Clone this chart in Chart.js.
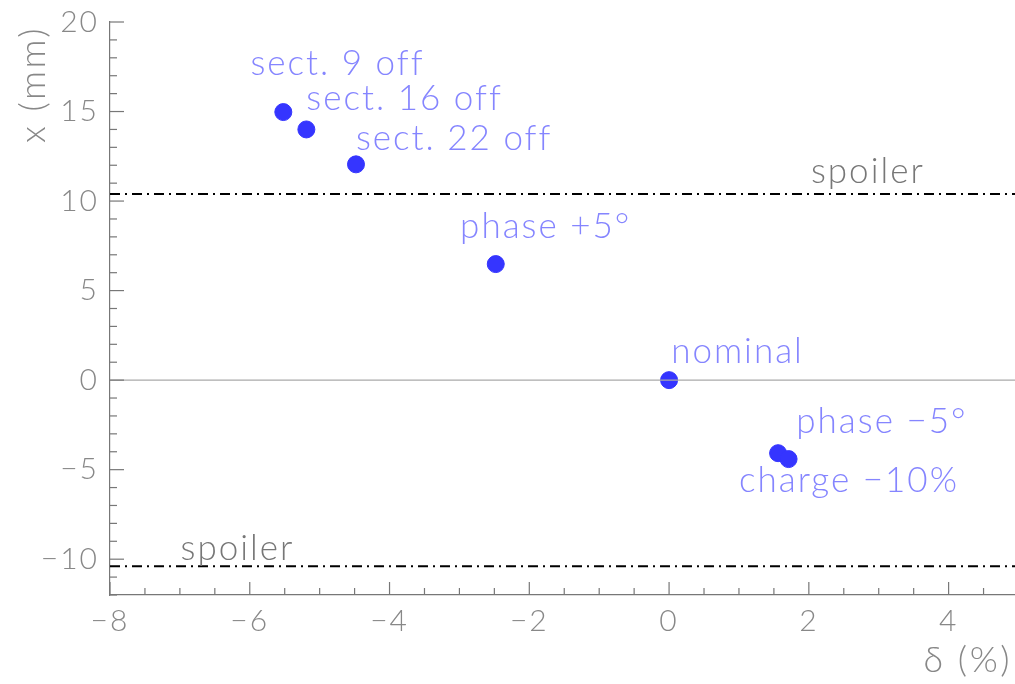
<!DOCTYPE html>
<html>
<head>
<meta charset="utf-8">
<script src="https://cdn.jsdelivr.net/npm/chart.js@4"></script>
<style>
  html, body { margin: 0; padding: 0; background: #fff; overflow: hidden; }
  #wrap { width: 1015px; height: 684px; }
</style>
</head>
<body>
<div id="wrap"><canvas id="myChart" width="1015" height="684"></canvas></div>
<script>
// measured points: delta (%) vs x (mm)
const names = ['sect. 9 off', 'sect. 16 off', 'sect. 22 off', 'phase +5°', 'nominal', 'phase \u22125°', 'charge \u221210%'];
const deltaVals = [-5.52, -5.19, -4.48, -2.48, 0.0, 1.56, 1.71];
const xVals = [14.97, 14.0, 12.05, 6.48, 0.0, -4.08, -4.41];

// where each label text starts (data units, left edge / baseline)
const labelX = [-5.99, -5.19, -4.48, -2.99, 0.03, 1.82, 1.0];
const labelY = [17.04, 15.08, 12.85, 7.93, 0.95, -2.96, -6.26];

// spoiler limits
const spoilerY = [10.4, -10.4];
const spoilerLabelX = [2.03, -6.99];
const spoilerLabelY = [11.0, -10.06];

const xTicks = [-8, -6, -4, -2, 0, 2, 4];
const yTicks = [-10, -5, 0, 5, 10, 15, 20];
const xRange = [-8, 4.95];
const yRange = [-12, 20];

const FAMILY = 'Lato, "Liberation Sans", sans-serif';
const LABEL_FONT = '300 35px ' + FAMILY;
const minus = v => (v < 0 ? '\u2212' + Math.abs(v) : String(v));

const pts = deltaVals.map((d, i) => ({ x: d, y: xVals[i] }));

// inner ticks, labels and axis titles
const extras = {
  id: 'extras',
  beforeUpdate(chart) {
    chart.ctx.letterSpacing = '2px';
  },
  beforeDraw(chart) {
    chart.ctx.letterSpacing = '2px';
  },
  afterDatasetsDraw(chart) {
    const ctx = chart.ctx;
    const xs = chart.scales.x, ys = chart.scales.y;
    const a = chart.chartArea;
    ctx.save();
    ctx.strokeStyle = '#777';
    ctx.lineWidth = 1.2;
    // x ticks (every 0.5)
    for (let v = xRange[0]; v <= xRange[1] + 1e-9; v += 0.5) {
      const px = xs.getPixelForValue(v);
      const len = (Math.abs(v % 2) < 1e-9) ? 13 : 7;
      ctx.beginPath(); ctx.moveTo(px, a.bottom); ctx.lineTo(px, a.bottom - len); ctx.stroke();
    }
    // y ticks (every 1)
    for (let v = yRange[0]; v <= yRange[1]; v += 1) {
      const py = ys.getPixelForValue(v);
      const len = (v % 5 === 0) ? 14 : 7;
      ctx.beginPath(); ctx.moveTo(a.left, py); ctx.lineTo(a.left + len, py); ctx.stroke();
    }
    // point labels
    ctx.font = LABEL_FONT;
    ctx.letterSpacing = '2px';
    ctx.textAlign = 'left';
    ctx.textBaseline = 'alphabetic';
    ctx.fillStyle = '#8585ff';
    names.forEach((n, i) => {
      ctx.fillText(n, xs.getPixelForValue(labelX[i]), ys.getPixelForValue(labelY[i]));
    });
    ctx.fillStyle = '#777';
    spoilerY.forEach((s, i) => {
      ctx.fillText('spoiler', xs.getPixelForValue(spoilerLabelX[i]), ys.getPixelForValue(spoilerLabelY[i]));
    });
    // axis titles
    ctx.fillStyle = '#888';
    ctx.letterSpacing = '2.5px';
    ctx.font = '300 36px ' + FAMILY;
    ctx.textAlign = 'right';
    ctx.fillText('\u03b4 (%)', 1012, 672);
    ctx.translate(45, 26);
    ctx.rotate(-Math.PI / 2);
    ctx.fillText('x (mm)', 0, 0);
    ctx.restore();
  }
};

const tickFont = { family: FAMILY, size: 30, weight: 300 };

const ctx = document.getElementById('myChart').getContext('2d');
const chart = new Chart(ctx, {
  type: 'scatter',
  data: {
    datasets: [
      {
        label: 'zero',
        data: [{ x: xRange[0], y: 0 }, { x: xRange[1], y: 0 }],
        showLine: true, borderColor: '#aaa', borderWidth: 1.2, pointRadius: 0
      },
      {
        label: 'spoiler +',
        data: [{ x: xRange[0], y: spoilerY[0] }, { x: xRange[1], y: spoilerY[0] }],
        showLine: true, borderColor: '#000', borderWidth: 2, borderDash: [10, 5, 2, 5], pointRadius: 0
      },
      {
        label: 'spoiler -',
        data: [{ x: xRange[0], y: spoilerY[1] }, { x: xRange[1], y: spoilerY[1] }],
        showLine: true, borderColor: '#000', borderWidth: 2, borderDash: [10, 5, 2, 5], pointRadius: 0
      },
      {
        label: 'settings',
        data: pts,
        backgroundColor: '#3535ff', borderColor: '#3535ff',
        pointRadius: 8.5, pointHoverRadius: 8.5
      }
    ]
  },
  options: {
    responsive: false,
    animation: false,
    layout: { autoPadding: false, padding: { top: 22, right: 0, left: 0, bottom: 0 } },
    plugins: { legend: { display: false }, tooltip: { enabled: false } },
    scales: {
      x: {
        type: 'linear', min: xRange[0], max: xRange[1],
        afterBuildTicks: s => { s.ticks = xTicks.map(v => ({ value: v })); },
        afterFit: s => { s.height = 89; s.paddingLeft = 0; s.paddingRight = 0; },
        grid: { display: false, drawTicks: false },
        border: { display: true, color: '#777', width: 1.2 },
        ticks: { color: '#888', font: tickFont, padding: 8, maxRotation: 0, callback: v => minus(v) }
      },
      y: {
        type: 'linear', min: yRange[0], max: yRange[1],
        afterBuildTicks: s => { s.ticks = yTicks.map(v => ({ value: v })); },
        afterFit: s => { s.width = 110; s.paddingTop = 0; s.paddingBottom = 0; },
        grid: { display: false, drawTicks: false },
        border: { display: true, color: '#777', width: 1.2 },
        ticks: { color: '#888', font: tickFont, padding: 11, callback: v => minus(v) }
      }
    }
  },
  plugins: [extras]
});
</script>
</body>
</html>
